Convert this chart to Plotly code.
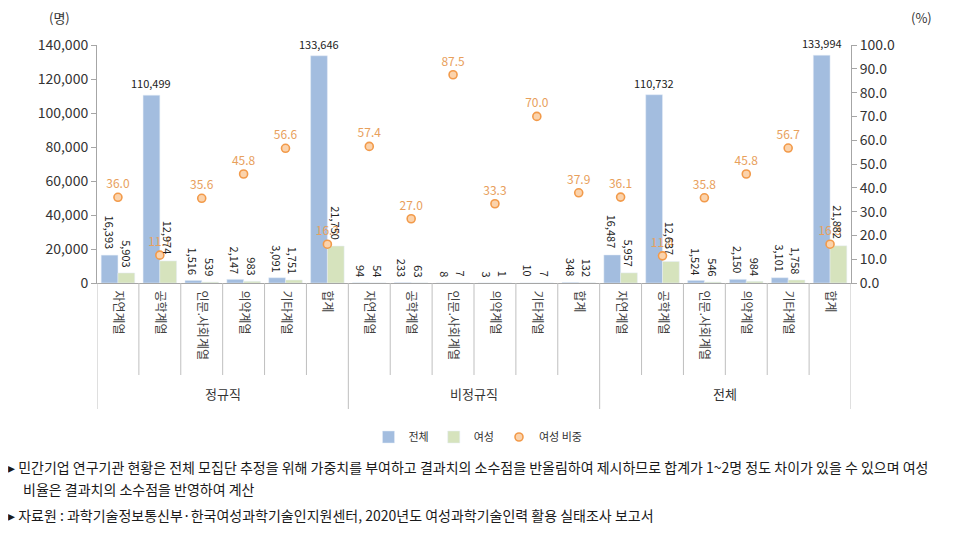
import plotly.graph_objects as go

groups = ["정규직", "비정규직", "전체"]
fields = ["자연계열", "공학계열", "인문.사회계열", "의약계열", "기타계열", "합계"]

total_vals = [16393, 110499, 1516, 2147, 3091, 133646,
              94, 233, 8, 3, 10, 348,
              16487, 110732, 1524, 2150, 3101, 133994]
female_vals = [5903, 12974, 539, 983, 1751, 21750,
               54, 63, 7, 1, 7, 132,
               5957, 12637, 546, 984, 1758, 21882]
female_pct = [36.0, 11.7, 35.6, 45.8, 56.6, 16.3,
              57.4, 27.0, 87.5, 33.3, 70.0, 37.9,
              36.1, 11.4, 35.8, 45.8, 56.7, 16.3]

cats = [f for g in groups for f in fields]
xs = list(range(len(cats)))

FONT = "Noto Sans CJK KR"
BLUE = "#a3bddf"
GREEN = "#d6e3bd"
ORANGE = "#f29a4a"
ORANGE_TXT = "#e8a05c"
AXIS = "#a6a6a6"

# pixel geometry helpers (plot area 97..851 x, 45..283 y in the screenshot)
PH = 238.0
PW = 754.0
def py(pix):
    return (283 - pix) / PH
def px(pix):
    return (pix - 97) / PW

fig = go.Figure()
fig.add_trace(go.Bar(x=xs, y=total_vals, name="전체", marker_color=BLUE,
                     hoverinfo="skip"))
fig.add_trace(go.Bar(x=xs, y=female_vals, name="여성", marker_color=GREEN,
                     hoverinfo="skip"))
fig.add_trace(go.Scatter(x=xs, y=female_pct, name="여성 비중", yaxis="y2",
                         mode="markers+text",
                         text=[f"{v:.1f}" for v in female_pct],
                         textposition="top center",
                         textfont=dict(color=ORANGE_TXT, size=12, family=FONT),
                         marker=dict(size=8, color="#fbd3ac",
                                     line=dict(color=ORANGE, width=1.6)),
                         cliponaxis=False, hoverinfo="skip"))

annotations = []
# bar value labels
for vals, off in ((total_vals, -0.2), (female_vals, 0.2)):
    for i, v in enumerate(vals):
        horiz = v > 100000
        annotations.append(dict(
            x=i + off, y=v, xref="x", yref="y",
            text=f"{v:,}", showarrow=False,
            textangle=0 if horiz else 90,
            xanchor="center", yanchor="bottom",
            yshift=2 if horiz else 4,
            font=dict(size=11, color="#222222", family=FONT)))

# group labels
for gi, g in enumerate(groups):
    annotations.append(dict(
        x=gi * 6 + 2.5, y=py(393), xref="x", yref="paper", text=g,
        showarrow=False, xanchor="center", yanchor="middle",
        font=dict(size=13, color="#333333", family=FONT)))

# unit labels
annotations.append(dict(x=px(59), y=py(18), xref="paper", yref="paper",
                        text="(명)", showarrow=False, xanchor="center",
                        yanchor="middle", font=dict(size=13, color="#333333", family=FONT)))
annotations.append(dict(x=px(921), y=py(18), xref="paper", yref="paper",
                        text="(%)", showarrow=False, xanchor="center",
                        yanchor="middle", font=dict(size=13, color="#333333", family=FONT)))

notes = [
    ("▸ 민간기업 연구기관 현황은 전체 모집단 추정을 위해 가중치를 부여하고 결과치의 소수점을 반올림하여 제시하므로 합계가 1~2명 정도 차이가 있을 수 있으며 여성", 6, 467),
    ("비율은 결과치의 소수점을 반영하여 계산", 21, 489),
    ("▸ 자료원 : 과학기술정보통신부·한국여성과학기술인지원센터, 2020년도 여성과학기술인력 활용 실태조사 보고서", 6, 515),
]
for t, xp, yp in notes:
    annotations.append(dict(x=px(xp), y=py(yp), xref="paper", yref="paper",
                            text=t, showarrow=False, xanchor="left", yanchor="middle",
                            font=dict(size=14, color="#1a1a1a", family=FONT)))

shapes = []
# category separators below axis
for b in range(len(cats) + 1):
    major = b % 6 == 0
    shapes.append(dict(type="line", xref="x", yref="paper",
                       x0=b - 0.5, x1=b - 0.5, y0=0,
                       y1=py(409) if major else py(375),
                       line=dict(color="#bfbfbf", width=1)))

# page body has an 8px offset; compensate so plot area lands at 97..851 / 45..283
fig.update_layout(
    width=951, height=526,
    margin=dict(l=89, r=108, t=37, b=251),
    paper_bgcolor="white", plot_bgcolor="white",
    barmode="group", bargap=0.2, bargroupgap=0,
    font=dict(family=FONT, color="#333333"),
    showlegend=True,
    legend=dict(orientation="h", x=px(478), y=py(437), xanchor="center",
                yanchor="middle", font=dict(size=11, color="#333333", family=FONT),
                itemwidth=30, tracegroupgap=0, bgcolor="rgba(0,0,0,0)"),
    xaxis=dict(range=[-0.5, len(cats) - 0.5], tickmode="array", tickvals=xs,
               ticktext=cats, tickangle=90, ticks="outside", ticklen=4,
               tickcolor="rgba(0,0,0,0)", showline=True,
               linecolor=AXIS, linewidth=1, showgrid=False, zeroline=False,
               automargin=False,
               tickfont=dict(size=12, color="#404040", family=FONT)),
    yaxis=dict(range=[0, 140000], dtick=20000, tickformat=",", showgrid=False,
               showline=True, linecolor=AXIS, linewidth=1, ticks="outside",
               ticklen=5, tickcolor=AXIS, zeroline=False, automargin=False,
               tickfont=dict(size=14, color="#333333", family=FONT)),
    yaxis2=dict(range=[0, 100], dtick=10, tickformat=".1f", overlaying="y",
                side="right", showgrid=False, showline=True, linecolor=AXIS,
                linewidth=1, ticks="outside", ticklen=5, tickcolor=AXIS,
                zeroline=False, automargin=False,
                tickfont=dict(size=14, color="#333333", family=FONT)),
    annotations=annotations,
    shapes=shapes,
)

fig.write_html("out.html")
